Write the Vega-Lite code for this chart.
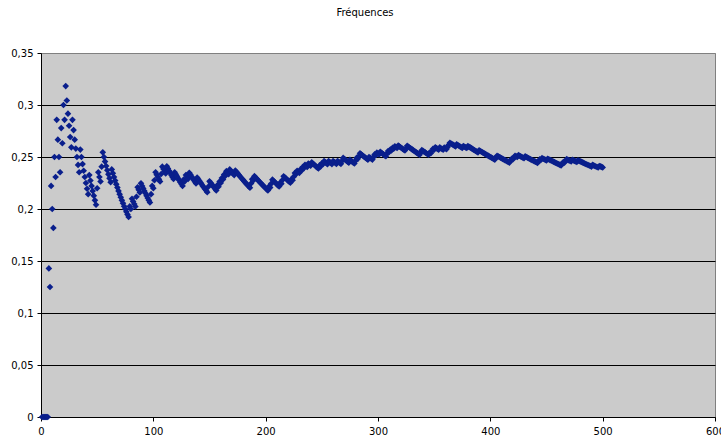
{
"$schema": "https://vega.github.io/schema/vega-lite/v6.json",
"width": 674, "height": 364,
"autosize": {"type": "none"},
"padding": {"left": 41, "top": 53, "right": 6, "bottom": 19},
"background": "white",
"title": {"text": "Fréquences", "fontSize": 10, "font": "DejaVu Sans", "fontWeight": "normal", "color": "#000000", "anchor": "middle", "offset": 30, "dx": -13},
"config": {"view": {"fill": "#cbcbcb", "stroke": "#808080", "strokeWidth": 1}, "font": "DejaVu Sans"},
"data": {"values": [
{"n":1,"f":0},{"n":2,"f":0},{"n":3,"f":0},{"n":4,"f":0},{"n":5,"f":0},{"n":6,"f":0},{"n":7,"f":0.1429},{"n":8,"f":0.125},{"n":9,"f":0.2222},{"n":10,"f":0.2},
{"n":11,"f":0.1818},{"n":12,"f":0.25},{"n":13,"f":0.2308},{"n":14,"f":0.2857},{"n":15,"f":0.2667},{"n":16,"f":0.25},{"n":17,"f":0.2353},{"n":18,"f":0.2778},{"n":19,"f":0.2632},{"n":20,"f":0.3},
{"n":21,"f":0.2857},{"n":22,"f":0.3182},{"n":23,"f":0.3043},{"n":24,"f":0.2917},{"n":25,"f":0.28},{"n":26,"f":0.2692},{"n":27,"f":0.2593},{"n":28,"f":0.2857},{"n":29,"f":0.2759},{"n":30,"f":0.2667},
{"n":31,"f":0.2581},{"n":32,"f":0.25},{"n":33,"f":0.2424},{"n":34,"f":0.2353},{"n":35,"f":0.2571},{"n":36,"f":0.25},{"n":37,"f":0.2432},{"n":38,"f":0.2368},{"n":39,"f":0.2308},{"n":40,"f":0.225},
{"n":41,"f":0.2195},{"n":42,"f":0.2143},{"n":43,"f":0.2326},{"n":44,"f":0.2273},{"n":45,"f":0.2222},{"n":46,"f":0.2174},{"n":47,"f":0.2128},{"n":48,"f":0.2083},{"n":49,"f":0.2041},{"n":50,"f":0.22},
{"n":51,"f":0.2353},{"n":52,"f":0.2308},{"n":53,"f":0.2264},{"n":54,"f":0.2407},{"n":55,"f":0.2545},{"n":56,"f":0.25},{"n":57,"f":0.2456},{"n":58,"f":0.2414},{"n":59,"f":0.2373},{"n":60,"f":0.2333},
{"n":61,"f":0.2295},{"n":62,"f":0.2258},{"n":63,"f":0.2381},{"n":64,"f":0.2344},{"n":65,"f":0.2308},{"n":66,"f":0.2273},{"n":67,"f":0.2239},{"n":68,"f":0.2206},{"n":69,"f":0.2174},{"n":70,"f":0.2143},
{"n":71,"f":0.2113},{"n":72,"f":0.2083},{"n":73,"f":0.2055},{"n":74,"f":0.2027},{"n":75,"f":0.2},{"n":76,"f":0.1974},{"n":77,"f":0.1948},{"n":78,"f":0.1923},{"n":79,"f":0.2025},{"n":80,"f":0.2},
{"n":81,"f":0.2099},{"n":82,"f":0.2073},{"n":83,"f":0.2048},{"n":84,"f":0.2024},{"n":85,"f":0.2118},{"n":86,"f":0.2209},{"n":87,"f":0.2184},{"n":88,"f":0.2159},{"n":89,"f":0.2247},{"n":90,"f":0.2222},
{"n":91,"f":0.2198},{"n":92,"f":0.2174},{"n":93,"f":0.2151},{"n":94,"f":0.2128},{"n":95,"f":0.2105},{"n":96,"f":0.2083},{"n":97,"f":0.2062},{"n":98,"f":0.2143},{"n":99,"f":0.2222},{"n":100,"f":0.22},
{"n":101,"f":0.2277},{"n":102,"f":0.2353},{"n":103,"f":0.233},{"n":104,"f":0.2308},{"n":105,"f":0.2286},{"n":106,"f":0.2264},{"n":107,"f":0.2336},{"n":108,"f":0.2407},{"n":109,"f":0.2385},{"n":110,"f":0.2364},
{"n":111,"f":0.2342},{"n":112,"f":0.2411},{"n":113,"f":0.2389},{"n":114,"f":0.2368},{"n":115,"f":0.2348},{"n":116,"f":0.2328},{"n":117,"f":0.2308},{"n":118,"f":0.2288},{"n":119,"f":0.2353},{"n":120,"f":0.2333},
{"n":121,"f":0.2314},{"n":122,"f":0.2295},{"n":123,"f":0.2276},{"n":124,"f":0.2258},{"n":125,"f":0.224},{"n":126,"f":0.2222},{"n":127,"f":0.2283},{"n":128,"f":0.2266},{"n":129,"f":0.2326},{"n":130,"f":0.2308},
{"n":131,"f":0.229},{"n":132,"f":0.2348},{"n":133,"f":0.2331},{"n":134,"f":0.2313},{"n":135,"f":0.2296},{"n":136,"f":0.2279},{"n":137,"f":0.2263},{"n":138,"f":0.2246},{"n":139,"f":0.2302},{"n":140,"f":0.2286},
{"n":141,"f":0.227},{"n":142,"f":0.2254},{"n":143,"f":0.2238},{"n":144,"f":0.2222},{"n":145,"f":0.2207},{"n":146,"f":0.2192},{"n":147,"f":0.2177},{"n":148,"f":0.2162},{"n":149,"f":0.2215},{"n":150,"f":0.2267},
{"n":151,"f":0.2252},{"n":152,"f":0.2237},{"n":153,"f":0.2222},{"n":154,"f":0.2208},{"n":155,"f":0.2194},{"n":156,"f":0.2179},{"n":157,"f":0.2229},{"n":158,"f":0.2215},{"n":159,"f":0.2264},{"n":160,"f":0.225},
{"n":161,"f":0.2298},{"n":162,"f":0.2284},{"n":163,"f":0.2331},{"n":164,"f":0.2317},{"n":165,"f":0.2364},{"n":166,"f":0.2349},{"n":167,"f":0.2335},{"n":168,"f":0.2381},{"n":169,"f":0.2367},{"n":170,"f":0.2353},
{"n":171,"f":0.2339},{"n":172,"f":0.2326},{"n":173,"f":0.237},{"n":174,"f":0.2356},{"n":175,"f":0.2343},{"n":176,"f":0.233},{"n":177,"f":0.2316},{"n":178,"f":0.2303},{"n":179,"f":0.2291},{"n":180,"f":0.2278},
{"n":181,"f":0.2265},{"n":182,"f":0.2253},{"n":183,"f":0.224},{"n":184,"f":0.2228},{"n":185,"f":0.2216},{"n":186,"f":0.2204},{"n":187,"f":0.2246},{"n":188,"f":0.2287},{"n":189,"f":0.2275},{"n":190,"f":0.2316},
{"n":191,"f":0.2304},{"n":192,"f":0.2292},{"n":193,"f":0.228},{"n":194,"f":0.2268},{"n":195,"f":0.2256},{"n":196,"f":0.2245},{"n":197,"f":0.2234},{"n":198,"f":0.2222},{"n":199,"f":0.2211},{"n":200,"f":0.22},
{"n":201,"f":0.2189},{"n":202,"f":0.2178},{"n":203,"f":0.2217},{"n":204,"f":0.2206},{"n":205,"f":0.2244},{"n":206,"f":0.2282},{"n":207,"f":0.2271},{"n":208,"f":0.226},{"n":209,"f":0.2249},{"n":210,"f":0.2238},
{"n":211,"f":0.2227},{"n":212,"f":0.2217},{"n":213,"f":0.2254},{"n":214,"f":0.2243},{"n":215,"f":0.2279},{"n":216,"f":0.2315},{"n":217,"f":0.2304},{"n":218,"f":0.2294},{"n":219,"f":0.2283},{"n":220,"f":0.2273},
{"n":221,"f":0.2262},{"n":222,"f":0.2252},{"n":223,"f":0.2287},{"n":224,"f":0.2277},{"n":225,"f":0.2311},{"n":226,"f":0.2345},{"n":227,"f":0.2335},{"n":228,"f":0.2368},{"n":229,"f":0.2358},{"n":230,"f":0.2348},
{"n":231,"f":0.2381},{"n":232,"f":0.2371},{"n":233,"f":0.2403},{"n":234,"f":0.2393},{"n":235,"f":0.2426},{"n":236,"f":0.2415},{"n":237,"f":0.2405},{"n":238,"f":0.2437},{"n":239,"f":0.2427},{"n":240,"f":0.2417},
{"n":241,"f":0.2448},{"n":242,"f":0.2438},{"n":243,"f":0.2428},{"n":244,"f":0.2418},{"n":245,"f":0.2408},{"n":246,"f":0.2398},{"n":247,"f":0.2389},{"n":248,"f":0.2419},{"n":249,"f":0.241},{"n":250,"f":0.244},
{"n":251,"f":0.243},{"n":252,"f":0.246},{"n":253,"f":0.2451},{"n":254,"f":0.2441},{"n":255,"f":0.2431},{"n":256,"f":0.2461},{"n":257,"f":0.2451},{"n":258,"f":0.2442},{"n":259,"f":0.2432},{"n":260,"f":0.2462},
{"n":261,"f":0.2452},{"n":262,"f":0.2443},{"n":263,"f":0.2433},{"n":264,"f":0.2462},{"n":265,"f":0.2453},{"n":266,"f":0.2444},{"n":267,"f":0.2434},{"n":268,"f":0.2463},{"n":269,"f":0.2491},{"n":270,"f":0.2481},
{"n":271,"f":0.2472},{"n":272,"f":0.2463},{"n":273,"f":0.2454},{"n":274,"f":0.2445},{"n":275,"f":0.2473},{"n":276,"f":0.2464},{"n":277,"f":0.2455},{"n":278,"f":0.2446},{"n":279,"f":0.2437},{"n":280,"f":0.2464},
{"n":281,"f":0.2491},{"n":282,"f":0.2482},{"n":283,"f":0.2509},{"n":284,"f":0.2535},{"n":285,"f":0.2526},{"n":286,"f":0.2517},{"n":287,"f":0.2509},{"n":288,"f":0.25},{"n":289,"f":0.2491},{"n":290,"f":0.2483},
{"n":291,"f":0.2474},{"n":292,"f":0.25},{"n":293,"f":0.2491},{"n":294,"f":0.2483},{"n":295,"f":0.2475},{"n":296,"f":0.25},{"n":297,"f":0.2525},{"n":298,"f":0.2517},{"n":299,"f":0.2542},{"n":300,"f":0.2533},
{"n":301,"f":0.2525},{"n":302,"f":0.255},{"n":303,"f":0.2541},{"n":304,"f":0.2533},{"n":305,"f":0.2525},{"n":306,"f":0.2516},{"n":307,"f":0.2508},{"n":308,"f":0.2532},{"n":309,"f":0.2557},{"n":310,"f":0.2548},
{"n":311,"f":0.2572},{"n":312,"f":0.2564},{"n":313,"f":0.2588},{"n":314,"f":0.258},{"n":315,"f":0.2603},{"n":316,"f":0.2595},{"n":317,"f":0.2587},{"n":318,"f":0.261},{"n":319,"f":0.2602},{"n":320,"f":0.2594},
{"n":321,"f":0.2586},{"n":322,"f":0.2578},{"n":323,"f":0.257},{"n":324,"f":0.2562},{"n":325,"f":0.2585},{"n":326,"f":0.2607},{"n":327,"f":0.2599},{"n":328,"f":0.2591},{"n":329,"f":0.2584},{"n":330,"f":0.2576},
{"n":331,"f":0.2568},{"n":332,"f":0.256},{"n":333,"f":0.2553},{"n":334,"f":0.2545},{"n":335,"f":0.2537},{"n":336,"f":0.253},{"n":337,"f":0.2522},{"n":338,"f":0.2544},{"n":339,"f":0.2566},{"n":340,"f":0.2559},
{"n":341,"f":0.2551},{"n":342,"f":0.2544},{"n":343,"f":0.2536},{"n":344,"f":0.2529},{"n":345,"f":0.2522},{"n":346,"f":0.2543},{"n":347,"f":0.2536},{"n":348,"f":0.2557},{"n":349,"f":0.2579},{"n":350,"f":0.2571},
{"n":351,"f":0.2593},{"n":352,"f":0.2585},{"n":353,"f":0.2578},{"n":354,"f":0.2571},{"n":355,"f":0.2592},{"n":356,"f":0.2584},{"n":357,"f":0.2577},{"n":358,"f":0.257},{"n":359,"f":0.2591},{"n":360,"f":0.2583},
{"n":361,"f":0.2576},{"n":362,"f":0.2597},{"n":363,"f":0.2617},{"n":364,"f":0.2637},{"n":365,"f":0.263},{"n":366,"f":0.2623},{"n":367,"f":0.2616},{"n":368,"f":0.2609},{"n":369,"f":0.2602},{"n":370,"f":0.2622},
{"n":371,"f":0.2615},{"n":372,"f":0.2608},{"n":373,"f":0.2601},{"n":374,"f":0.2594},{"n":375,"f":0.2587},{"n":376,"f":0.2606},{"n":377,"f":0.2599},{"n":378,"f":0.2593},{"n":379,"f":0.2586},{"n":380,"f":0.2605},
{"n":381,"f":0.2598},{"n":382,"f":0.2592},{"n":383,"f":0.2585},{"n":384,"f":0.2578},{"n":385,"f":0.2571},{"n":386,"f":0.2565},{"n":387,"f":0.2558},{"n":388,"f":0.2552},{"n":389,"f":0.2545},{"n":390,"f":0.2564},
{"n":391,"f":0.2558},{"n":392,"f":0.2551},{"n":393,"f":0.2545},{"n":394,"f":0.2538},{"n":395,"f":0.2532},{"n":396,"f":0.2525},{"n":397,"f":0.2519},{"n":398,"f":0.2513},{"n":399,"f":0.2506},{"n":400,"f":0.25},
{"n":401,"f":0.2494},{"n":402,"f":0.2488},{"n":403,"f":0.2481},{"n":404,"f":0.2475},{"n":405,"f":0.2494},{"n":406,"f":0.2512},{"n":407,"f":0.2506},{"n":408,"f":0.25},{"n":409,"f":0.2494},{"n":410,"f":0.2488},
{"n":411,"f":0.2482},{"n":412,"f":0.2476},{"n":413,"f":0.247},{"n":414,"f":0.2464},{"n":415,"f":0.2458},{"n":416,"f":0.2452},{"n":417,"f":0.2446},{"n":418,"f":0.2464},{"n":419,"f":0.2482},{"n":420,"f":0.2476},
{"n":421,"f":0.2494},{"n":422,"f":0.2512},{"n":423,"f":0.2506},{"n":424,"f":0.25},{"n":425,"f":0.2518},{"n":426,"f":0.2512},{"n":427,"f":0.2506},{"n":428,"f":0.25},{"n":429,"f":0.2494},{"n":430,"f":0.2488},
{"n":431,"f":0.2506},{"n":432,"f":0.25},{"n":433,"f":0.2494},{"n":434,"f":0.2488},{"n":435,"f":0.2483},{"n":436,"f":0.2477},{"n":437,"f":0.2471},{"n":438,"f":0.2466},{"n":439,"f":0.246},{"n":440,"f":0.2455},
{"n":441,"f":0.2449},{"n":442,"f":0.2443},{"n":443,"f":0.246},{"n":444,"f":0.2477},{"n":445,"f":0.2472},{"n":446,"f":0.2489},{"n":447,"f":0.2483},{"n":448,"f":0.2478},{"n":449,"f":0.2472},{"n":450,"f":0.2467},
{"n":451,"f":0.2483},{"n":452,"f":0.2478},{"n":453,"f":0.2472},{"n":454,"f":0.2467},{"n":455,"f":0.2462},{"n":456,"f":0.2456},{"n":457,"f":0.2451},{"n":458,"f":0.2445},{"n":459,"f":0.244},{"n":460,"f":0.2435},
{"n":461,"f":0.243},{"n":462,"f":0.2424},{"n":463,"f":0.2419},{"n":464,"f":0.2435},{"n":465,"f":0.2452},{"n":466,"f":0.2446},{"n":467,"f":0.2463},{"n":468,"f":0.2479},{"n":469,"f":0.2473},{"n":470,"f":0.2468},
{"n":471,"f":0.2463},{"n":472,"f":0.2458},{"n":473,"f":0.2474},{"n":474,"f":0.2468},{"n":475,"f":0.2463},{"n":476,"f":0.2458},{"n":477,"f":0.2453},{"n":478,"f":0.2469},{"n":479,"f":0.2463},{"n":480,"f":0.2458},
{"n":481,"f":0.2453},{"n":482,"f":0.2448},{"n":483,"f":0.2443},{"n":484,"f":0.2438},{"n":485,"f":0.2433},{"n":486,"f":0.2428},{"n":487,"f":0.2423},{"n":488,"f":0.2418},{"n":489,"f":0.2413},{"n":490,"f":0.2408},
{"n":491,"f":0.2424},{"n":492,"f":0.2419},{"n":493,"f":0.2414},{"n":494,"f":0.2409},{"n":495,"f":0.2404},{"n":496,"f":0.2399},{"n":497,"f":0.2414},{"n":498,"f":0.241},{"n":499,"f":0.2405},{"n":500,"f":0.24}
]},
"mark": {"type": "point", "shape": "diamond", "filled": true, "size": 44, "color": "#0a1f8c", "opacity": 1},
"encoding": {
  "x": {"field": "n", "type": "quantitative",
    "scale": {"domain": [0, 600], "nice": false},
    "axis": {"values": [0, 100, 200, 300, 400, 500, 600], "title": null, "grid": false, "tickSize": 4, "labelPadding": 5, "domainColor": "#000000", "tickColor": "#000000", "labelColor": "#000000", "labelFontSize": 10, "labelFont": "DejaVu Sans", "labelFlush": false, "labelOverlap": false, "labelBound": false, "format": "d"}},
  "y": {"field": "f", "type": "quantitative",
    "scale": {"domain": [0, 0.35], "nice": false},
    "axis": {"values": [0, 0.05, 0.1, 0.15, 0.2, 0.25, 0.3, 0.35], "title": null, "grid": true,
      "gridColor": {"condition": {"test": "datum.value > 0.34", "value": "#808080"}, "value": "#000000"},
      "gridOpacity": 1, "gridWidth": 1,
      "tickSize": 4, "labelPadding": 4, "domainColor": "#000000", "tickColor": "#000000", "labelColor": "#000000", "labelFontSize": 10, "labelFont": "DejaVu Sans", "labelFlush": false, "labelOverlap": false,
      "labelExpr": "replace(format(datum.value, '.2~f'), '.', ',')"}}
}
}
